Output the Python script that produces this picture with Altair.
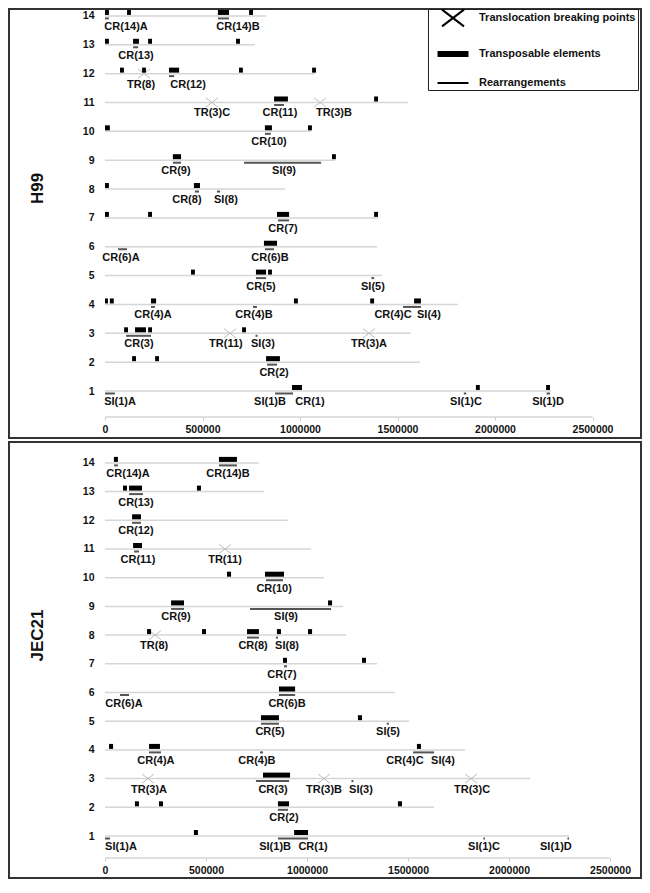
import altair as alt
import pandas as pd

FONT = "Liberation Sans"
KINDS = ["Translocation breaking points", "Transposable elements", "Rearrangements"]
X_PATH = "M-1.83,-1.4L1.83,1.4M-1.83,1.4L1.83,-1.4"
BAR_PATH = "M-2.58,-0.33H2.58M-2.58,0H2.58M-2.58,0.33H2.58"
LINE_PATH = "M-2.58,0H2.58"

X_TICKS = [0, 500000, 1000000, 1500000, 2000000, 2500000]
CHROMS = list(range(1, 15))

# ---------------- H99 ----------------
H99_LEN = [2287000, 1615000, 1569000, 1810000, 1420000, 1395000, 1400000,
           923000, 1180000, 1056000, 1554000, 1076000, 769000, 826000]
H99_TE = [
    (14, 0, 20000), (14, 113000, 133000), (14, 579000, 636000), (14, 739000, 759000),
    (13, 0, 20000), (13, 144000, 174000), (13, 221000, 241000), (13, 672000, 692000),
    (12, 77000, 97000), (12, 190000, 210000), (12, 328000, 380000), (12, 687000, 707000), (12, 1062000, 1082000),
    (11, 867000, 938000), (11, 1380000, 1400000),
    (10, 0, 25000), (10, 820000, 856000), (10, 1041000, 1061000),
    (9, 348000, 390000), (9, 1164000, 1184000),
    (8, 0, 20000), (8, 456000, 487000),
    (7, 0, 20000), (7, 221000, 241000), (7, 882000, 944000), (7, 1380000, 1400000),
    (6, 815000, 882000),
    (5, 441000, 461000), (5, 774000, 826000), (5, 836000, 856000),
    (4, 0, 15000), (4, 25000, 45000), (4, 236000, 262000), (4, 969000, 989000), (4, 1360000, 1380000), (4, 1585000, 1620000),
    (3, 98000, 118000), (3, 154000, 210000), (3, 221000, 241000), (3, 703000, 723000),
    (2, 139000, 159000), (2, 257000, 277000), (2, 826000, 897000),
    (1, 959000, 1010000), (1, 1902000, 1922000), (1, 2262000, 2282000),
]
H99_RE = [
    (14, 0, 20000), (14, 579000, 636000),
    (13, 144000, 170000),
    (12, 328000, 355000),
    (11, 867000, 918000),
    (10, 820000, 850000),
    (9, 348000, 390000), (9, 713000, 1108000),
    (8, 461000, 482000), (8, 574000, 590000),
    (7, 887000, 944000),
    (6, 67000, 113000), (6, 820000, 867000),
    (5, 774000, 826000), (5, 1366000, 1380000),
    (4, 236000, 256000), (4, 759000, 779000), (4, 1528000, 1620000),
    (3, 108000, 236000), (3, 772000, 782000),
    (2, 831000, 882000),
    (1, 0, 51000), (1, 872000, 964000), (1, 1840000, 1852000), (1, 2264000, 2282000),
]
H99_TR = [(12, 200000), (11, 548000), (11, 1103000), (3, 641000), (3, 1354000)]
H99_LABELS = [
    ("CR(14)A", 14, 108000), ("CR(14)B", 14, 682000), ("CR(13)", 13, 159000),
    ("TR(8)", 12, 185000), ("CR(12)", 12, 426000),
    ("TR(3)C", 11, 549000), ("CR(11)", 11, 897000), ("TR(3)B", 11, 1174000),
    ("CR(10)", 10, 841000), ("CR(9)", 9, 364000), ("SI(9)", 9, 918000),
    ("CR(8)", 8, 420000), ("SI(8)", 8, 620000), ("CR(7)", 7, 913000),
    ("CR(6)A", 6, 82000), ("CR(6)B", 6, 846000),
    ("CR(5)", 5, 800000), ("SI(5)", 5, 1374000),
    ("CR(4)A", 4, 246000), ("CR(4)B", 4, 764000), ("CR(4)C", 4, 1477000), ("SI(4)", 4, 1661000),
    ("CR(3)", 3, 174000), ("TR(11)", 3, 620000), ("SI(3)", 3, 810000), ("TR(3)A", 3, 1354000),
    ("CR(2)", 2, 867000),
    ("SI(1)A", 1, 77000), ("SI(1)B", 1, 846000), ("CR(1)", 1, 1051000),
    ("SI(1)C", 1, 1851000), ("SI(1)D", 1, 2272000),
]

# ---------------- JEC21 ----------------
JEC_LEN = [2297000, 1629000, 2104000, 1782000, 1505000, 1435000, 1346000,
           1193000, 1178000, 1084000, 1020000, 906000, 787000, 762000]
JEC_TE = [
    (14, 44000, 64000), (14, 564000, 653000),
    (13, 89000, 109000), (13, 119000, 183000), (13, 455000, 475000),
    (12, 134000, 178000),
    (11, 139000, 183000),
    (10, 604000, 624000), (10, 792000, 886000),
    (9, 327000, 391000), (9, 1104000, 1124000),
    (8, 208000, 228000), (8, 480000, 500000), (8, 703000, 762000), (8, 851000, 871000), (8, 1005000, 1025000),
    (7, 881000, 901000), (7, 1272000, 1292000),
    (6, 861000, 941000),
    (5, 772000, 861000), (5, 1252000, 1272000),
    (4, 20000, 40000), (4, 218000, 272000), (4, 1544000, 1564000),
    (3, 782000, 916000),
    (2, 148000, 168000), (2, 267000, 287000), (2, 856000, 911000), (2, 1450000, 1470000),
    (1, 440000, 460000), (1, 936000, 1005000),
]
JEC_RE = [
    (14, 45000, 64000), (14, 564000, 653000),
    (13, 119000, 188000),
    (12, 134000, 178000),
    (11, 144000, 168000),
    (10, 797000, 881000),
    (9, 327000, 391000), (9, 718000, 1119000),
    (8, 703000, 762000), (8, 846000, 856000),
    (7, 886000, 901000),
    (6, 74000, 119000), (6, 861000, 941000),
    (5, 772000, 861000), (5, 1395000, 1405000),
    (4, 218000, 277000), (4, 767000, 782000), (4, 1525000, 1629000),
    (3, 747000, 911000), (3, 1220000, 1230000),
    (2, 856000, 906000),
    (1, 0, 25000), (1, 856000, 1005000), (1, 1873000, 1881000), (1, 2289000, 2297000),
]
JEC_TR = [(11, 594000), (8, 248000), (3, 213000), (3, 1084000), (3, 1812000)]
JEC_LABELS = [
    ("CR(14)A", 14, 114000), ("CR(14)B", 14, 609000), ("CR(13)", 13, 153000),
    ("CR(12)", 12, 153000), ("CR(11)", 11, 163000), ("TR(11)", 11, 594000),
    ("CR(10)", 10, 837000), ("CR(9)", 9, 351000), ("SI(9)", 9, 896000),
    ("TR(8)", 8, 243000), ("CR(8)", 8, 733000), ("SI(8)", 8, 901000),
    ("CR(7)", 7, 876000), ("CR(6)A", 6, 94000), ("CR(6)B", 6, 901000),
    ("CR(5)", 5, 817000), ("SI(5)", 5, 1401000),
    ("CR(4)A", 4, 252000), ("CR(4)B", 4, 752000), ("CR(4)C", 4, 1485000), ("SI(4)", 4, 1673000),
    ("TR(3)A", 3, 218000), ("CR(3)", 3, 832000), ("TR(3)B", 3, 1084000),
    ("SI(3)", 3, 1267000), ("TR(3)C", 3, 1817000),
    ("CR(2)", 2, 886000),
    ("SI(1)A", 1, 79000), ("SI(1)B", 1, 842000), ("CR(1)", 1, 1030000),
    ("SI(1)C", 1, 1876000), ("SI(1)D", 1, 2232000),
]


def panel(name, lengths, tes, rearr, trs, labels, xdom, ydom, height,
          base_y, x_off, title_y, legend_y):
    xs = alt.Scale(domain=xdom, nice=False, zero=False)
    ys = alt.Scale(domain=ydom, nice=False, zero=False)
    xaxis = alt.Axis(values=X_TICKS, tickCount=6, format="d", offset=x_off, domain=False,
                     grid=False, tickColor="#c8c8c8", tickSize=3, labelPadding=4,
                     labelFont=FONT, labelFontWeight="bold", labelFontSize=10.5,
                     labelColor="#111", labelFlush=False, labelOverlap=False, title=None)
    yaxis = alt.Axis(values=CHROMS, tickCount=14, format="d", offset=-85, domain=False,
                     ticks=False, grid=False, labelPadding=0, labelFont=FONT,
                     labelFontWeight="bold", labelFontSize=10.5, labelColor="#111",
                     labelOverlap=False, labelFlush=False, title=name, titleX=-57,
                     titleY=title_y, titleAngle=270, titleAlign="center",
                     titleBaseline="middle", titleFont=FONT, titleFontSize=17,
                     titleFontWeight="bold", titleColor="#111")

    chrom_df = pd.DataFrame({"chr": CHROMS, "start": [0] * 14, "end": lengths})
    te_df = pd.DataFrame(tes, columns=["chr", "start", "end"])
    re_df = pd.DataFrame(rearr, columns=["chr", "start", "end"])
    tr_df = pd.DataFrame(trs, columns=["chr", "pos"])
    tr_df["kind"] = KINDS[0]
    lab_df = pd.DataFrame(labels, columns=["label", "chr", "pos"])
    base_df = pd.DataFrame({"start": [X_TICKS[0]], "end": [X_TICKS[-1]], "chr": [base_y]})

    chrom = alt.Chart(chrom_df).mark_rule(color="#d6d6d6", strokeWidth=1.5).encode(
        x=alt.X("start:Q", scale=xs, axis=xaxis), x2="end:Q",
        y=alt.Y("chr:Q", scale=ys, axis=yaxis))
    baseline = alt.Chart(base_df).mark_rule(color="#d6d6d6", strokeWidth=1.5).encode(
        x="start:Q", x2="end:Q", y="chr:Q")
    rearr_l = alt.Chart(re_df).mark_rule(color="#555555", strokeWidth=2, yOffset=2.5,
                                        strokeCap="butt").encode(
        x="start:Q", x2="end:Q", y="chr:Q")
    tr_l = alt.Chart(tr_df).mark_point(filled=False, color="#bdbdbd", strokeWidth=1,
                                       size=43, opacity=1).encode(
        x="pos:Q", y="chr:Q",
        shape=alt.Shape("kind:N", title=None,
                        scale=alt.Scale(domain=KINDS, range=[X_PATH, BAR_PATH, LINE_PATH]),
                        legend=alt.Legend(orient="none", legendX=419, legendY=legend_y,
                                          symbolSize=144, symbolStrokeWidth=2,
                                          symbolStrokeColor="black", symbolOffset=16,
                                          labelOffset=19, rowPadding=16, padding=2,
                                          labelFont=FONT, labelFontSize=11,
                                          labelFontWeight="bold", labelColor="#111",
                                          labelLimit=400, strokeColor="#222",
                                          fillColor="white")))
    te_l = alt.Chart(te_df).mark_rule(color="black", strokeWidth=5, yOffset=-3.5,
                                     strokeCap="butt").encode(
        x="start:Q", x2="end:Q", y="chr:Q")
    lab_l = alt.Chart(lab_df).mark_text(font=FONT, fontSize=11, fontWeight="bold",
                                        color="#111", baseline="middle", dy=11).encode(
        x="pos:Q", y="chr:Q", text="label:N")
    return alt.layer(chrom, baseline, rearr_l, tr_l, te_l, lab_l).properties(
        width=632, height=height)


top = panel("H99", H99_LEN, H99_TE, H99_RE, H99_TR, H99_LABELS,
            [-492300, 2748600], [-0.629, 14.24], 429, 0.1, -21, 179, 0)
bottom = panel("JEC21", JEC_LEN, JEC_TE, JEC_RE, JEC_TR, JEC_LABELS,
               [-475250, 2653200], [-0.463, 14.728], 436, 0.233, -20, 193, 3)

chart = alt.vconcat(top, bottom, spacing=2, padding=0).configure_view(
    stroke="#333333", strokeWidth=2)

chart.save("out.html", embed_options={"renderer": "svg", "actions": False})
